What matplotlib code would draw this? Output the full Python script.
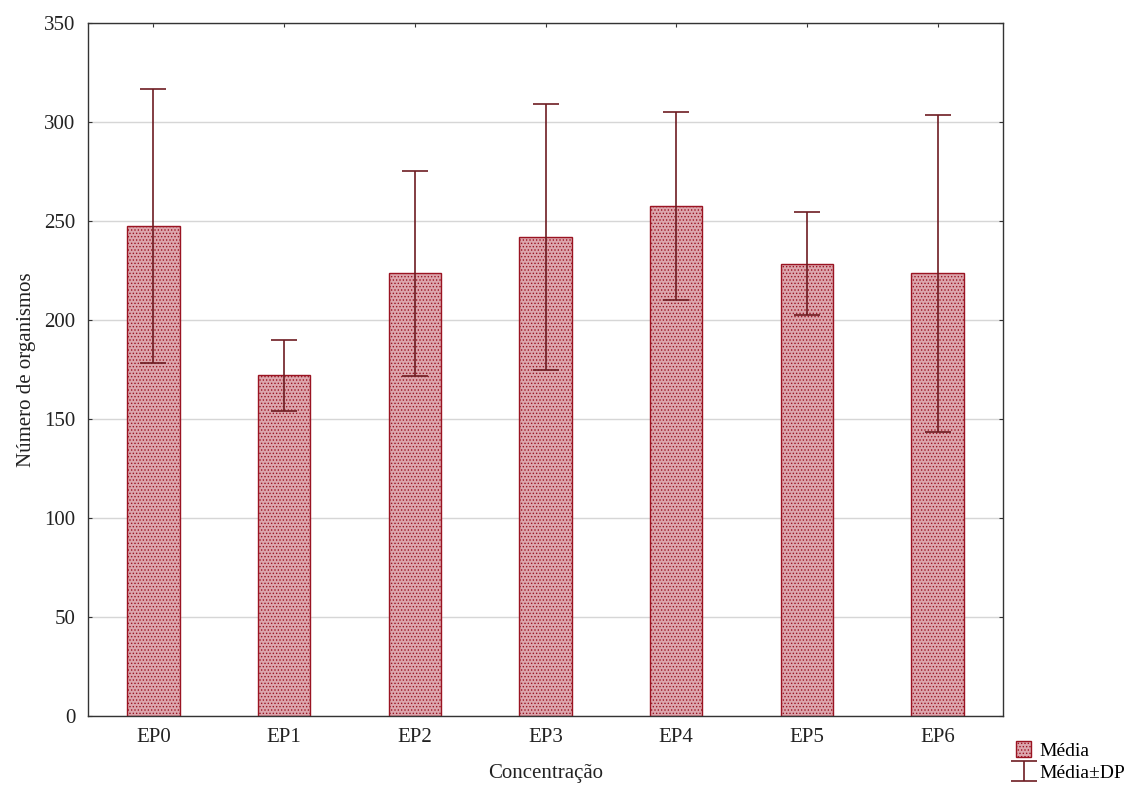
import numpy as np
import matplotlib
matplotlib.use("Agg")
import matplotlib.pyplot as plt
from matplotlib.patches import Patch

# data
grupos = ["EP0", "EP1", "EP2", "EP3", "EP4", "EP5", "EP6"]
media = [247.5, 172.0, 223.5, 242.0, 257.5, 228.5, 223.5]
dp = [69.0, 18.0, 52.0, 67.0, 47.5, 26.0, 80.0]

plt.rcParams['font.family'] = ['Liberation Serif', 'DejaVu Serif']
plt.rcParams['hatch.linewidth'] = 0.6
plt.rcParams['hatch.color'] = '#a8202e'

cor_barra = '#dca6ad'
cor_borda = '#9a1422'

fig = plt.figure(figsize=(11.26, 7.85), dpi=100)
ax = fig.add_axes([88/1126, 1-716/785, (1003-88)/1126, (716-23)/785])

x = np.arange(len(grupos))
ax.bar(x, media, width=0.4, color=cor_barra, edgecolor=cor_borda,
       linewidth=1.0, hatch='.....', zorder=2)
eb = ax.errorbar(x, media, yerr=dp, fmt='none', ecolor='#6e1c22',
                 elinewidth=1.2, capsize=9.5, capthick=1.2, zorder=3)

ax.set_xlim(-0.5, len(grupos) - 0.5)
ax.set_ylim(0, 350)
ax.set_yticks(np.arange(0, 351, 50))
ax.set_xticks(x)
ax.set_xticklabels(grupos)
ax.yaxis.grid(True, color='#d6d6d6', linewidth=1.0, zorder=0)
ax.set_axisbelow(True)

ax.tick_params(direction='in', length=3, width=0.8, labelsize=15, pad=9,
               top=True, right=True, colors='#333333', labelcolor='#222222')
for s in ax.spines.values():
    s.set_color('#333333')
    s.set_linewidth(1.0)

ax.set_xlabel('Concentração', fontsize=15, labelpad=12, color='#222222')
ax.set_ylabel('Número de organismos', fontsize=15, labelpad=6, color='#222222')

handles = [Patch(facecolor=cor_barra, edgecolor=cor_borda, hatch='.....'), eb]
leg = fig.legend(handles, ['Média', 'Média±DP'], loc='upper left',
                 bbox_to_anchor=(1008/1126, 1-733/785), frameon=False,
                 fontsize=14, handlelength=0.8, handleheight=0.9,
                 handletextpad=0.4, labelspacing=0.2, borderaxespad=0)

fig.savefig('out.png', dpi=100)
